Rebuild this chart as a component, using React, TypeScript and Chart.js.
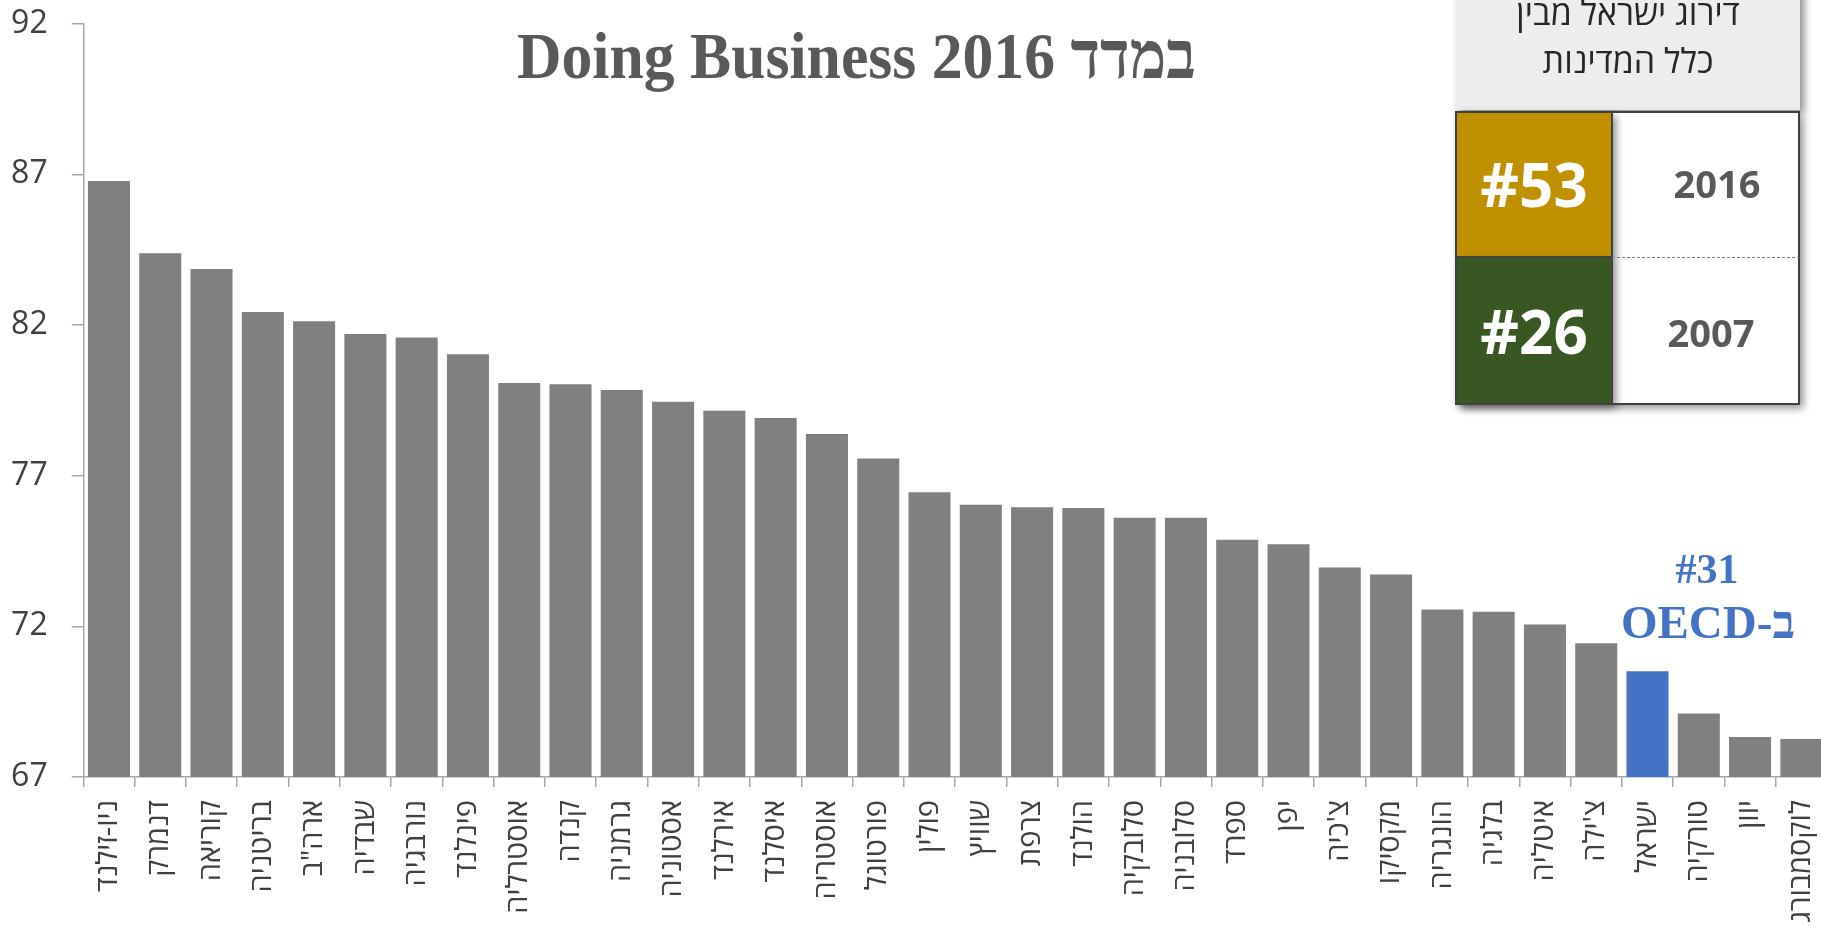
import React, { useEffect, useRef } from 'react';
import { Chart, registerables } from 'chart.js';

Chart.register(...registerables);

const countries = [
  'ניו-זילנד', 'דנמרק', 'קוריאה', 'בריטניה', 'ארה"ב', 'שבדיה', 'נורבגיה', 'פינלנד',
  'אוסטרליה', 'קנדה', 'גרמניה', 'אסטוניה', 'אירלנד', 'איסלנד', 'אוסטריה', 'פורטוגל',
  'פולין', 'שוויץ', 'צרפת', 'הולנד', 'סלובקיה', 'סלובניה', 'ספרד', 'יפן',
  "צ'כיה", 'מקסיקו', 'הונגריה', 'בלגיה', 'איטליה', "צ'ילה", 'ישראל', 'טורקיה',
  'יוון', 'לוקסמבורג',
];
const scores = [
  86.78, 84.38, 83.86, 82.43, 82.12, 81.7, 81.58, 81.03,
  80.07, 80.03, 79.84, 79.45, 79.15, 78.91, 78.38, 77.57,
  76.45, 76.03, 75.95, 75.93, 75.6, 75.6, 74.87, 74.72,
  73.95, 73.72, 72.56, 72.48, 72.06, 71.44, 70.51, 69.11,
  68.33, 68.26,
];
const highlightCountry = 'ישראל';
const yMin = 67;
const yMax = 92;
const yStep = 5;

const titleText = 'Doing Business 2016 במדד';
const tableHeaderLines = ['דירוג ישראל מבין', 'כלל המדינות'];
const rankValues = ['#53', '#26'];
const rankYears = ['2016', '2007'];
const oecdRank = '#31';
const oecdLabel = 'ב-OECD';

const GRAY = '#808080';
const BLUE = '#4472C4';
const AXIS = '#a6a6a6';
const SANS = '"Open Sans", "Liberation Sans", "DejaVu Sans", sans-serif';
const SERIF = '"Liberation Serif", "Times New Roman", serif';

const overlayPlugin = {
  id: 'overlay',
  afterDraw(chart: any) {
    const ctx = chart.ctx as CanvasRenderingContext2D;

    // Title
    ctx.save();
    ctx.fillStyle = '#595959';
    ctx.font = `bold 66px ${SERIF}`;
    ctx.textAlign = 'center';
    ctx.textBaseline = 'alphabetic';
    const tw = ctx.measureText(titleText).width;
    const k = Math.min(1, 679 / tw);
    ctx.translate(856.5, 78);
    ctx.scale(k, 1);
    ctx.fillText(titleText, 0, 0);
    ctx.restore();

    // Table header box
    ctx.save();
    ctx.shadowColor = 'rgba(0,0,0,0.45)';
    ctx.shadowBlur = 8;
    ctx.shadowOffsetX = 4;
    ctx.shadowOffsetY = 4;
    ctx.fillStyle = '#ededed';
    ctx.fillRect(1456, -20, 344, 130);
    ctx.restore();

    ctx.save();
    ctx.fillStyle = '#262626';
    ctx.font = `34px ${SANS}`;
    ctx.textAlign = 'center';
    ctx.direction = 'rtl';
    ctx.textBaseline = 'alphabetic';
    ctx.fillText(tableHeaderLines[0], 1628, 25);
    ctx.fillText(tableHeaderLines[1], 1628, 73);
    ctx.restore();

    // Lower table
    const L = 1456, T = 112, Wd = 343, Ht = 292, C = 156, R = 257;
    ctx.save();
    ctx.shadowColor = 'rgba(0,0,0,0.45)';
    ctx.shadowBlur = 8;
    ctx.shadowOffsetX = 4;
    ctx.shadowOffsetY = 4;
    ctx.fillStyle = '#ffffff';
    ctx.fillRect(L, T, Wd, Ht);
    ctx.fillStyle = '#BF9000';
    ctx.fillRect(L, T, C, R - T);
    ctx.fillStyle = '#385723';
    ctx.fillRect(L, R, C, T + Ht - R);
    ctx.restore();

    ctx.save();
    ctx.strokeStyle = '#404040';
    ctx.lineWidth = 2;
    ctx.strokeRect(L, T, Wd, Ht);
    ctx.beginPath();
    ctx.moveTo(L + C, T);
    ctx.lineTo(L + C, T + Ht);
    ctx.moveTo(L, R);
    ctx.lineTo(L + C, R);
    ctx.stroke();
    ctx.strokeStyle = '#7f7f7f';
    ctx.lineWidth = 1;
    ctx.setLineDash([3, 2]);
    ctx.beginPath();
    ctx.moveTo(L + C, R + 0.5);
    ctx.lineTo(L + Wd, R + 0.5);
    ctx.stroke();
    ctx.restore();

    ctx.save();
    ctx.textAlign = 'center';
    ctx.textBaseline = 'alphabetic';
    ctx.fillStyle = '#ffffff';
    ctx.font = `bold 60px ${SANS}`;
    ctx.fillText(rankValues[0], 1534, 207);
    ctx.fillText(rankValues[1], 1534, 354);
    ctx.fillStyle = '#595959';
    ctx.font = `bold 38px ${SANS}`;
    ctx.fillText(rankYears[0], 1717, 198);
    ctx.fillText(rankYears[1], 1711, 347);
    ctx.restore();

    // OECD annotation
    ctx.save();
    ctx.textAlign = 'center';
    ctx.textBaseline = 'alphabetic';
    ctx.fillStyle = BLUE;
    ctx.font = `bold 42px ${SERIF}`;
    ctx.fillText(oecdRank, 1707, 583);
    ctx.font = `bold 47px ${SERIF}`;
    ctx.direction = 'rtl';
    ctx.fillText(oecdLabel, 1708, 638);
    ctx.restore();
  },
};

export default function App() {
  const ref = useRef<HTMLCanvasElement>(null);

  useEffect(() => {
    document.body.style.margin = '0';
    document.body.style.overflow = 'hidden';
    const canvas = ref.current;
    if (!canvas) return;
    const chart = new Chart(canvas, {
      type: 'bar',
      data: {
        labels: countries,
        datasets: [
          {
            data: scores,
            backgroundColor: countries.map((c) => (c === highlightCountry ? BLUE : GRAY)),
            categoryPercentage: 1,
            barPercentage: 0.82,
            borderWidth: 0,
          },
        ],
      },
      options: {
        responsive: false,
        animation: false,
        layout: { padding: { top: 23.6, right: 3, left: 0, bottom: 0 } },
        plugins: {
          legend: { display: false },
          tooltip: { enabled: false },
          title: { display: false },
        },
        scales: {
          x: {
            grid: {
              offset: true,
              drawOnChartArea: false,
              drawTicks: true,
              tickLength: 10,
              color: AXIS,
              lineWidth: 1.5,
            },
            border: { color: AXIS, width: 1.5 },
            ticks: {
              autoSkip: false,
              minRotation: 90,
              maxRotation: 90,
              padding: 13,
              color: '#404040',
              font: { size: 29, family: SANS },
            },
            afterFit: (s: any) => {
              s.height = 152;
              s.paddingLeft = 0;
              s.paddingRight = 0;
            },
          },
          y: {
            min: yMin,
            max: yMax,
            ticks: {
              stepSize: yStep,
              padding: 24,
              color: '#404040',
              font: { size: 32, family: SANS },
            },
            grid: {
              drawOnChartArea: false,
              drawTicks: true,
              tickLength: 11.6,
              color: AXIS,
              lineWidth: 1.5,
            },
            border: { color: AXIS, width: 1.5 },
            afterFit: (s: any) => {
              s.width = 83.3;
              s.paddingTop = 0;
              s.paddingBottom = 0;
            },
          },
        },
      },
      plugins: [overlayPlugin],
    });
    return () => chart.destroy();
  }, []);

  return (
    <div style={{ position: 'relative', width: 1821, height: 929, overflow: 'hidden' }}>
      <canvas ref={ref} width={1830} height={929} style={{ display: 'block' }} />
    </div>
  );
}
